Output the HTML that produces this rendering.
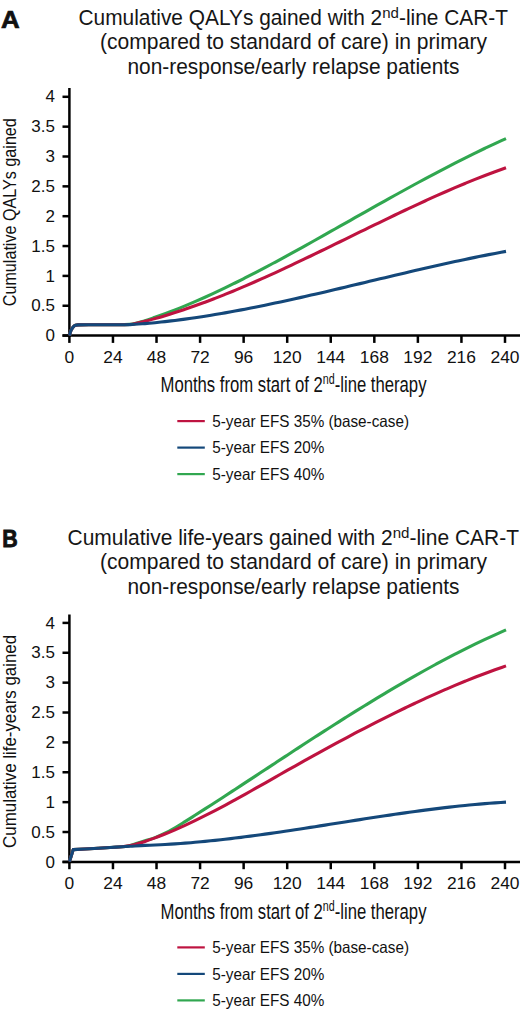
<!DOCTYPE html>
<html><head><meta charset="utf-8"><style>
html,body{margin:0;padding:0;background:#fff;}
body{width:520px;height:1009px;overflow:hidden;}
svg{display:block;font-family:"Liberation Sans", sans-serif;}
</style></head><body>
<svg width="520" height="1009" viewBox="0 0 520 1009">
<text transform="translate(1.0,27.8) scale(1.065,1)" font-size="24.3" font-weight="bold" fill="#111" stroke="#111" stroke-width="0.7">A</text>
<g font-size="21.5" fill="#161616" text-anchor="middle">
<text x="293.25" y="24.5" textLength="429.5" lengthAdjust="spacingAndGlyphs">Cumulative QALYs gained with 2<tspan font-size='15.5' dy='-6.8'>nd</tspan><tspan dy='6.8'>-line CAR-T</tspan></text>
<text x="293.5" y="49.4" textLength="387" lengthAdjust="spacingAndGlyphs">(compared to standard of care) in primary</text>
<text x="293.5" y="74" textLength="332" lengthAdjust="spacingAndGlyphs">non-response/early relapse patients</text>
</g>
<g stroke="#000" stroke-width="2.5" fill="none">
<line x1="69.4" y1="88" x2="69.4" y2="336.85"/>
<line x1="62.5" y1="335.6" x2="520" y2="335.6"/>
<line x1="62.5" y1="335.60" x2="69.4" y2="335.60"/>
<line x1="62.5" y1="305.75" x2="69.4" y2="305.75"/>
<line x1="62.5" y1="275.90" x2="69.4" y2="275.90"/>
<line x1="62.5" y1="246.05" x2="69.4" y2="246.05"/>
<line x1="62.5" y1="216.20" x2="69.4" y2="216.20"/>
<line x1="62.5" y1="186.35" x2="69.4" y2="186.35"/>
<line x1="62.5" y1="156.50" x2="69.4" y2="156.50"/>
<line x1="62.5" y1="126.65" x2="69.4" y2="126.65"/>
<line x1="62.5" y1="96.80" x2="69.4" y2="96.80"/>
<line x1="69.40" y1="335.6" x2="69.40" y2="342.90000000000003"/>
<line x1="112.96" y1="335.6" x2="112.96" y2="342.90000000000003"/>
<line x1="156.52" y1="335.6" x2="156.52" y2="342.90000000000003"/>
<line x1="200.08" y1="335.6" x2="200.08" y2="342.90000000000003"/>
<line x1="243.64" y1="335.6" x2="243.64" y2="342.90000000000003"/>
<line x1="287.20" y1="335.6" x2="287.20" y2="342.90000000000003"/>
<line x1="330.76" y1="335.6" x2="330.76" y2="342.90000000000003"/>
<line x1="374.32" y1="335.6" x2="374.32" y2="342.90000000000003"/>
<line x1="417.88" y1="335.6" x2="417.88" y2="342.90000000000003"/>
<line x1="461.44" y1="335.6" x2="461.44" y2="342.90000000000003"/>
<line x1="505.00" y1="335.6" x2="505.00" y2="342.90000000000003"/>
</g>
<g font-size="17" fill="#111" text-anchor="end">
<text x="54.9" y="341.20">0</text>
<text x="54.9" y="311.35">0.5</text>
<text x="54.9" y="281.50">1</text>
<text x="54.9" y="251.65">1.5</text>
<text x="54.9" y="221.80">2</text>
<text x="54.9" y="191.95">2.5</text>
<text x="54.9" y="162.10">3</text>
<text x="54.9" y="132.25">3.5</text>
<text x="54.9" y="102.40">4</text>
</g>
<g font-size="17.4" fill="#111" text-anchor="middle">
<text x="69.40" y="362.80">0</text>
<text x="112.96" y="362.80">24</text>
<text x="156.52" y="362.80">48</text>
<text x="200.08" y="362.80">72</text>
<text x="243.64" y="362.80">96</text>
<text x="287.20" y="362.80">120</text>
<text x="330.76" y="362.80">144</text>
<text x="374.32" y="362.80">168</text>
<text x="417.88" y="362.80">192</text>
<text x="461.44" y="362.80">216</text>
<text x="505.00" y="362.80">240</text>
</g>
<text x="160.5" y="392.40000000000003" font-size="21.8" fill="#111" textLength="266" lengthAdjust="spacingAndGlyphs">Months from start of 2<tspan font-size="14" dy="-8">nd</tspan><tspan dy="8">-line therapy</tspan></text>
<text transform="translate(15.6,212.20) rotate(-90)" font-size="18.8" fill="#111" text-anchor="middle" textLength="188" lengthAdjust="spacingAndGlyphs">Cumulative QALYs gained</text>
<path d="M69.50,335.50 C69.87,334.17 70.23,332.48 70.60,331.50 C71.00,330.44 71.40,329.68 71.80,329.00 C72.37,328.04 72.93,327.11 73.50,326.60 C74.17,326.00 74.83,325.48 75.50,325.30 C76.33,325.08 77.17,324.91 78.00,324.90 C85.33,324.81 92.67,324.80 100.00,324.80 C106.67,324.80 113.33,324.80 120.00,324.80 C123.33,324.80 126.67,324.62 130.00,324.40 C135.00,324.07 140.00,322.10 145.00,320.66 C148.33,319.70 151.67,318.46 155.00,317.31 C158.33,316.15 161.67,314.95 165.00,313.72 C168.33,312.48 171.67,311.21 175.00,309.90 C178.33,308.59 181.67,307.25 185.00,305.87 C188.33,304.49 191.67,303.08 195.00,301.64 C198.33,300.20 201.67,298.73 205.00,297.23 C208.33,295.73 211.67,294.19 215.00,292.64 C218.33,291.08 221.67,289.50 225.00,287.89 C228.33,286.29 231.67,284.65 235.00,283.00 C238.33,281.35 241.67,279.67 245.00,277.98 C248.33,276.29 251.67,274.57 255.00,272.84 C258.33,271.11 261.67,269.36 265.00,267.59 C268.33,265.83 271.67,264.05 275.00,262.26 C278.33,260.47 281.67,258.66 285.00,256.84 C288.33,255.03 291.67,253.20 295.00,251.37 C298.33,249.53 301.67,247.69 305.00,245.84 C308.33,243.99 311.67,242.13 315.00,240.26 C318.33,238.40 321.67,236.53 325.00,234.65 C328.33,232.78 331.67,230.90 335.00,229.02 C338.33,227.14 341.67,225.26 345.00,223.38 C348.33,221.49 351.67,219.61 355.00,217.72 C358.33,215.84 361.67,213.96 365.00,212.08 C368.33,210.20 371.67,208.32 375.00,206.45 C378.33,204.57 381.67,202.70 385.00,200.84 C388.33,198.98 391.67,197.12 395.00,195.27 C398.33,193.42 401.67,191.57 405.00,189.74 C408.33,187.90 411.67,186.08 415.00,184.26 C418.33,182.45 421.67,180.64 425.00,178.85 C428.33,177.06 431.67,175.28 435.00,173.51 C438.33,171.75 441.67,169.99 445.00,168.26 C448.33,166.52 451.67,164.80 455.00,163.09 C458.33,161.39 461.67,159.70 465.00,158.03 C468.33,156.36 471.67,154.71 475.00,153.08 C478.33,151.45 481.67,149.84 485.00,148.26 C488.33,146.67 491.67,145.10 495.00,143.56 C498.67,141.87 502.33,140.23 506.00,138.56" fill="none" stroke="#31A750" stroke-width="3.1" stroke-linecap="butt" stroke-linejoin="round"/>
<path d="M69.50,335.50 C69.87,334.17 70.23,332.48 70.60,331.50 C71.00,330.44 71.40,329.68 71.80,329.00 C72.37,328.04 72.93,327.11 73.50,326.60 C74.17,326.00 74.83,325.48 75.50,325.30 C76.33,325.08 77.17,324.91 78.00,324.90 C85.33,324.81 92.67,324.80 100.00,324.80 C106.67,324.80 113.33,324.80 120.00,324.80 C123.33,324.80 126.67,324.67 130.00,324.50 C135.00,324.25 140.00,322.44 145.00,321.23 C148.33,320.43 151.67,319.49 155.00,318.57 C158.33,317.64 161.67,316.68 165.00,315.68 C168.33,314.69 171.67,313.65 175.00,312.59 C178.33,311.53 181.67,310.43 185.00,309.31 C188.33,308.18 191.67,307.02 195.00,305.83 C198.33,304.65 201.67,303.43 205.00,302.19 C208.33,300.95 211.67,299.68 215.00,298.39 C218.33,297.09 221.67,295.77 225.00,294.43 C228.33,293.09 231.67,291.72 235.00,290.34 C238.33,288.95 241.67,287.54 245.00,286.11 C248.33,284.69 251.67,283.24 255.00,281.77 C258.33,280.31 261.67,278.82 265.00,277.33 C268.33,275.83 271.67,274.31 275.00,272.79 C278.33,271.26 281.67,269.72 285.00,268.16 C288.33,266.61 291.67,265.04 295.00,263.47 C298.33,261.89 301.67,260.31 305.00,258.71 C308.33,257.12 311.67,255.51 315.00,253.91 C318.33,252.30 321.67,250.68 325.00,249.06 C328.33,247.44 331.67,245.82 335.00,244.19 C338.33,242.56 341.67,240.93 345.00,239.30 C348.33,237.67 351.67,236.04 355.00,234.41 C358.33,232.78 361.67,231.15 365.00,229.52 C368.33,227.90 371.67,226.27 375.00,224.66 C378.33,223.04 381.67,221.42 385.00,219.82 C388.33,218.21 391.67,216.61 395.00,215.02 C398.33,213.43 401.67,211.84 405.00,210.27 C408.33,208.70 411.67,207.13 415.00,205.59 C418.33,204.04 421.67,202.50 425.00,200.97 C428.33,199.45 431.67,197.94 435.00,196.45 C438.33,194.96 441.67,193.48 445.00,192.02 C448.33,190.56 451.67,189.12 455.00,187.70 C458.33,186.27 461.67,184.87 465.00,183.49 C468.33,182.11 471.67,180.75 475.00,179.42 C478.33,178.08 481.67,176.77 485.00,175.48 C488.33,174.20 491.67,172.93 495.00,171.70 C498.67,170.35 502.33,169.06 506.00,167.73" fill="none" stroke="#BE1340" stroke-width="3.1" stroke-linecap="butt" stroke-linejoin="round"/>
<path d="M69.50,335.50 C69.87,334.17 70.23,332.48 70.60,331.50 C71.00,330.44 71.40,329.68 71.80,329.00 C72.37,328.04 72.93,327.11 73.50,326.60 C74.17,326.00 74.83,325.48 75.50,325.30 C76.33,325.08 77.17,324.91 78.00,324.90 C85.33,324.81 92.67,324.80 100.00,324.80 C106.67,324.80 113.33,324.80 120.00,324.80 C123.33,324.80 126.67,324.70 130.00,324.60 C135.00,324.45 140.00,323.99 145.00,323.60 C148.33,323.33 151.67,323.00 155.00,322.67 C158.33,322.34 161.67,321.98 165.00,321.61 C168.33,321.24 171.67,320.84 175.00,320.43 C178.33,320.02 181.67,319.58 185.00,319.13 C188.33,318.68 191.67,318.20 195.00,317.71 C198.33,317.23 201.67,316.72 205.00,316.19 C208.33,315.67 211.67,315.13 215.00,314.58 C218.33,314.02 221.67,313.45 225.00,312.86 C228.33,312.28 231.67,311.67 235.00,311.06 C238.33,310.45 241.67,309.82 245.00,309.18 C248.33,308.54 251.67,307.88 255.00,307.22 C258.33,306.55 261.67,305.88 265.00,305.19 C268.33,304.50 271.67,303.80 275.00,303.10 C278.33,302.39 281.67,301.67 285.00,300.95 C288.33,300.22 291.67,299.49 295.00,298.75 C298.33,298.01 301.67,297.26 305.00,296.50 C308.33,295.75 311.67,294.99 315.00,294.22 C318.33,293.45 321.67,292.68 325.00,291.90 C328.33,291.12 331.67,290.34 335.00,289.56 C338.33,288.77 341.67,287.98 345.00,287.19 C348.33,286.40 351.67,285.61 355.00,284.81 C358.33,284.02 361.67,283.22 365.00,282.43 C368.33,281.63 371.67,280.83 375.00,280.04 C378.33,279.24 381.67,278.45 385.00,277.65 C388.33,276.86 391.67,276.07 395.00,275.28 C398.33,274.49 401.67,273.70 405.00,272.92 C408.33,272.13 411.67,271.35 415.00,270.58 C418.33,269.81 421.67,269.03 425.00,268.27 C428.33,267.51 431.67,266.75 435.00,266.00 C438.33,265.25 441.67,264.50 445.00,263.76 C448.33,263.03 451.67,262.30 455.00,261.58 C458.33,260.86 461.67,260.14 465.00,259.44 C468.33,258.74 471.67,258.05 475.00,257.37 C478.33,256.69 481.67,256.02 485.00,255.36 C488.33,254.70 491.67,254.05 495.00,253.42 C498.67,252.72 502.33,252.06 506.00,251.38" fill="none" stroke="#14487A" stroke-width="3.1" stroke-linecap="butt" stroke-linejoin="round"/>
<line x1="177.3" y1="421.10" x2="204.8" y2="421.10" stroke="#BE1340" stroke-width="2.2"/>
<text x="212.3" y="426.70" font-size="16.5" fill="#111" textLength="196.7" lengthAdjust="spacingAndGlyphs">5-year EFS 35% (base-case)</text>
<line x1="177.3" y1="447.60" x2="204.8" y2="447.60" stroke="#14487A" stroke-width="2.2"/>
<text x="212.3" y="453.20" font-size="16.5" fill="#111" textLength="112" lengthAdjust="spacingAndGlyphs">5-year EFS 20%</text>
<line x1="177.3" y1="474.10" x2="204.8" y2="474.10" stroke="#31A750" stroke-width="2.2"/>
<text x="212.3" y="479.70" font-size="16.5" fill="#111" textLength="112" lengthAdjust="spacingAndGlyphs">5-year EFS 40%</text>
<text transform="translate(2.3,546.7) scale(0.91,1)" font-size="23.5" font-weight="bold" fill="#111" stroke="#111" stroke-width="0.9">B</text>
<g font-size="21.5" fill="#161616" text-anchor="middle">
<text x="293.25" y="544.5" textLength="451.5" lengthAdjust="spacingAndGlyphs">Cumulative life-years gained with 2<tspan font-size='15.5' dy='-6.8'>nd</tspan><tspan dy='6.8'>-line CAR-T</tspan></text>
<text x="293.5" y="569.4" textLength="387" lengthAdjust="spacingAndGlyphs">(compared to standard of care) in primary</text>
<text x="293.5" y="594" textLength="332" lengthAdjust="spacingAndGlyphs">non-response/early relapse patients</text>
</g>
<g stroke="#000" stroke-width="2.5" fill="none">
<line x1="69.4" y1="614.5" x2="69.4" y2="863.15"/>
<line x1="62.5" y1="861.9" x2="520" y2="861.9"/>
<line x1="62.5" y1="861.90" x2="69.4" y2="861.90"/>
<line x1="62.5" y1="832.02" x2="69.4" y2="832.02"/>
<line x1="62.5" y1="802.15" x2="69.4" y2="802.15"/>
<line x1="62.5" y1="772.27" x2="69.4" y2="772.27"/>
<line x1="62.5" y1="742.40" x2="69.4" y2="742.40"/>
<line x1="62.5" y1="712.52" x2="69.4" y2="712.52"/>
<line x1="62.5" y1="682.65" x2="69.4" y2="682.65"/>
<line x1="62.5" y1="652.77" x2="69.4" y2="652.77"/>
<line x1="62.5" y1="622.90" x2="69.4" y2="622.90"/>
<line x1="69.40" y1="861.9" x2="69.40" y2="869.1999999999999"/>
<line x1="112.96" y1="861.9" x2="112.96" y2="869.1999999999999"/>
<line x1="156.52" y1="861.9" x2="156.52" y2="869.1999999999999"/>
<line x1="200.08" y1="861.9" x2="200.08" y2="869.1999999999999"/>
<line x1="243.64" y1="861.9" x2="243.64" y2="869.1999999999999"/>
<line x1="287.20" y1="861.9" x2="287.20" y2="869.1999999999999"/>
<line x1="330.76" y1="861.9" x2="330.76" y2="869.1999999999999"/>
<line x1="374.32" y1="861.9" x2="374.32" y2="869.1999999999999"/>
<line x1="417.88" y1="861.9" x2="417.88" y2="869.1999999999999"/>
<line x1="461.44" y1="861.9" x2="461.44" y2="869.1999999999999"/>
<line x1="505.00" y1="861.9" x2="505.00" y2="869.1999999999999"/>
</g>
<g font-size="17" fill="#111" text-anchor="end">
<text x="54.9" y="867.50">0</text>
<text x="54.9" y="837.62">0.5</text>
<text x="54.9" y="807.75">1</text>
<text x="54.9" y="777.88">1.5</text>
<text x="54.9" y="748.00">2</text>
<text x="54.9" y="718.12">2.5</text>
<text x="54.9" y="688.25">3</text>
<text x="54.9" y="658.38">3.5</text>
<text x="54.9" y="628.50">4</text>
</g>
<g font-size="17.4" fill="#111" text-anchor="middle">
<text x="69.40" y="889.10">0</text>
<text x="112.96" y="889.10">24</text>
<text x="156.52" y="889.10">48</text>
<text x="200.08" y="889.10">72</text>
<text x="243.64" y="889.10">96</text>
<text x="287.20" y="889.10">120</text>
<text x="330.76" y="889.10">144</text>
<text x="374.32" y="889.10">168</text>
<text x="417.88" y="889.10">192</text>
<text x="461.44" y="889.10">216</text>
<text x="505.00" y="889.10">240</text>
</g>
<text x="160.5" y="918.6999999999999" font-size="21.8" fill="#111" textLength="266" lengthAdjust="spacingAndGlyphs">Months from start of 2<tspan font-size="14" dy="-8">nd</tspan><tspan dy="8">-line therapy</tspan></text>
<text transform="translate(15.6,741.40) rotate(-90)" font-size="18.8" fill="#111" text-anchor="middle" textLength="213" lengthAdjust="spacingAndGlyphs">Cumulative life-years gained</text>
<path d="M69.50,861.50 L73.20,849.60 C80.13,849.23 87.07,848.90 94.00,848.50 C99.33,848.19 104.67,847.82 110.00,847.50 C114.00,847.26 118.00,847.15 122.00,846.80 C124.33,846.59 126.67,846.17 129.00,845.70 C134.33,844.63 139.67,842.36 145.00,840.70 C148.33,839.66 151.67,838.82 155.00,837.61 C158.33,836.40 161.67,834.83 165.00,833.20 C168.33,831.57 171.67,829.66 175.00,827.73 C178.33,825.80 181.67,823.67 185.00,821.60 C188.33,819.53 191.67,817.41 195.00,815.30 C198.33,813.18 201.67,811.06 205.00,808.92 C208.33,806.79 211.67,804.64 215.00,802.49 C218.33,800.33 221.67,798.17 225.00,796.00 C228.33,793.83 231.67,791.66 235.00,789.48 C238.33,787.30 241.67,785.11 245.00,782.92 C248.33,780.73 251.67,778.54 255.00,776.35 C258.33,774.16 261.67,771.96 265.00,769.77 C268.33,767.57 271.67,765.38 275.00,763.19 C278.33,760.99 281.67,758.80 285.00,756.62 C288.33,754.43 291.67,752.25 295.00,750.07 C298.33,747.89 301.67,745.72 305.00,743.55 C308.33,741.39 311.67,739.23 315.00,737.07 C318.33,734.92 321.67,732.78 325.00,730.64 C328.33,728.50 331.67,726.37 335.00,724.25 C338.33,722.14 341.67,720.03 345.00,717.93 C348.33,715.83 351.67,713.74 355.00,711.67 C358.33,709.59 361.67,707.53 365.00,705.48 C368.33,703.43 371.67,701.39 375.00,699.37 C378.33,697.35 381.67,695.34 385.00,693.34 C388.33,691.35 391.67,689.37 395.00,687.41 C398.33,685.45 401.67,683.51 405.00,681.58 C408.33,679.66 411.67,677.75 415.00,675.86 C418.33,673.97 421.67,672.10 425.00,670.25 C428.33,668.40 431.67,666.57 435.00,664.76 C438.33,662.96 441.67,661.17 445.00,659.41 C448.33,657.64 451.67,655.90 455.00,654.18 C458.33,652.47 461.67,650.77 465.00,649.10 C468.33,647.43 471.67,645.79 475.00,644.17 C478.33,642.55 481.67,640.96 485.00,639.40 C488.33,637.83 491.67,636.29 495.00,634.79 C498.67,633.13 502.33,631.54 506.00,629.91" fill="none" stroke="#31A750" stroke-width="3.1" stroke-linecap="butt" stroke-linejoin="round"/>
<path d="M69.50,861.50 L73.20,849.60 C80.13,849.23 87.07,848.90 94.00,848.50 C99.33,848.19 104.67,847.82 110.00,847.50 C114.00,847.26 118.00,847.14 122.00,846.80 C124.33,846.60 126.67,846.22 129.00,845.80 C134.33,844.84 139.67,843.08 145.00,841.41 C148.33,840.37 151.67,839.10 155.00,837.87 C158.33,836.63 161.67,835.33 165.00,833.99 C168.33,832.64 171.67,831.24 175.00,829.80 C178.33,828.36 181.67,826.87 185.00,825.34 C188.33,823.81 191.67,822.23 195.00,820.63 C198.33,819.02 201.67,817.37 205.00,815.70 C208.33,814.02 211.67,812.31 215.00,810.57 C218.33,808.84 221.67,807.07 225.00,805.28 C228.33,803.50 231.67,801.68 235.00,799.86 C238.33,798.03 241.67,796.18 245.00,794.33 C248.33,792.47 251.67,790.59 255.00,788.71 C258.33,786.84 261.67,784.94 265.00,783.05 C268.33,781.16 271.67,779.26 275.00,777.36 C278.33,775.47 281.67,773.57 285.00,771.68 C288.33,769.79 291.67,767.91 295.00,766.03 C298.33,764.16 301.67,762.29 305.00,760.43 C308.33,758.57 311.67,756.71 315.00,754.87 C318.33,753.03 321.67,751.19 325.00,749.37 C328.33,747.54 331.67,745.73 335.00,743.92 C338.33,742.12 341.67,740.33 345.00,738.55 C348.33,736.77 351.67,735.00 355.00,733.24 C358.33,731.49 361.67,729.75 365.00,728.02 C368.33,726.29 371.67,724.58 375.00,722.88 C378.33,721.18 381.67,719.49 385.00,717.82 C388.33,716.15 391.67,714.50 395.00,712.86 C398.33,711.23 401.67,709.61 405.00,708.01 C408.33,706.41 411.67,704.82 415.00,703.26 C418.33,701.69 421.67,700.14 425.00,698.62 C428.33,697.09 431.67,695.58 435.00,694.10 C438.33,692.61 441.67,691.15 445.00,689.70 C448.33,688.26 451.67,686.83 455.00,685.43 C458.33,684.03 461.67,682.66 465.00,681.30 C468.33,679.95 471.67,678.62 475.00,677.31 C478.33,676.01 481.67,674.72 485.00,673.47 C488.33,672.21 491.67,670.98 495.00,669.77 C498.67,668.45 502.33,667.19 506.00,665.90" fill="none" stroke="#BE1340" stroke-width="3.1" stroke-linecap="butt" stroke-linejoin="round"/>
<path d="M69.50,861.50 L73.20,849.60 C80.13,849.23 87.07,848.90 94.00,848.50 C99.33,848.19 104.67,847.82 110.00,847.50 C114.00,847.26 118.00,847.04 122.00,846.80 C124.67,846.64 127.33,846.47 130.00,846.30 C135.00,845.99 140.00,845.60 145.00,845.37 C148.33,845.22 151.67,845.14 155.00,845.00 C158.33,844.86 161.67,844.68 165.00,844.50 C168.33,844.32 171.67,844.11 175.00,843.88 C178.33,843.66 181.67,843.41 185.00,843.16 C188.33,842.90 191.67,842.62 195.00,842.32 C198.33,842.03 201.67,841.72 205.00,841.39 C208.33,841.07 211.67,840.72 215.00,840.37 C218.33,840.02 221.67,839.65 225.00,839.27 C228.33,838.88 231.67,838.49 235.00,838.08 C238.33,837.68 241.67,837.26 245.00,836.83 C248.33,836.40 251.67,835.96 255.00,835.52 C258.33,835.07 261.67,834.61 265.00,834.14 C268.33,833.68 271.67,833.20 275.00,832.72 C278.33,832.24 281.67,831.75 285.00,831.26 C288.33,830.77 291.67,830.26 295.00,829.76 C298.33,829.26 301.67,828.74 305.00,828.23 C308.33,827.72 311.67,827.20 315.00,826.68 C318.33,826.16 321.67,825.64 325.00,825.12 C328.33,824.59 331.67,824.07 335.00,823.54 C338.33,823.02 341.67,822.49 345.00,821.97 C348.33,821.44 351.67,820.92 355.00,820.40 C358.33,819.88 361.67,819.36 365.00,818.84 C368.33,818.33 371.67,817.81 375.00,817.30 C378.33,816.80 381.67,816.29 385.00,815.79 C388.33,815.29 391.67,814.80 395.00,814.31 C398.33,813.83 401.67,813.35 405.00,812.88 C408.33,812.40 411.67,811.94 415.00,811.48 C418.33,811.03 421.67,810.58 425.00,810.15 C428.33,809.71 431.67,809.28 435.00,808.87 C438.33,808.45 441.67,808.05 445.00,807.66 C448.33,807.27 451.67,806.89 455.00,806.52 C458.33,806.16 461.67,805.80 465.00,805.47 C468.33,805.13 471.67,804.81 475.00,804.50 C478.33,804.20 481.67,803.90 485.00,803.63 C488.33,803.36 491.67,803.10 495.00,802.86 C498.67,802.60 502.33,802.38 506.00,802.14" fill="none" stroke="#14487A" stroke-width="3.1" stroke-linecap="butt" stroke-linejoin="round"/>
<line x1="177.3" y1="947.40" x2="204.8" y2="947.40" stroke="#BE1340" stroke-width="2.2"/>
<text x="212.3" y="953.00" font-size="16.5" fill="#111" textLength="196.7" lengthAdjust="spacingAndGlyphs">5-year EFS 35% (base-case)</text>
<line x1="177.3" y1="973.90" x2="204.8" y2="973.90" stroke="#14487A" stroke-width="2.2"/>
<text x="212.3" y="979.50" font-size="16.5" fill="#111" textLength="112" lengthAdjust="spacingAndGlyphs">5-year EFS 20%</text>
<line x1="177.3" y1="1000.40" x2="204.8" y2="1000.40" stroke="#31A750" stroke-width="2.2"/>
<text x="212.3" y="1006.00" font-size="16.5" fill="#111" textLength="112" lengthAdjust="spacingAndGlyphs">5-year EFS 40%</text>
</svg>
</body></html>
